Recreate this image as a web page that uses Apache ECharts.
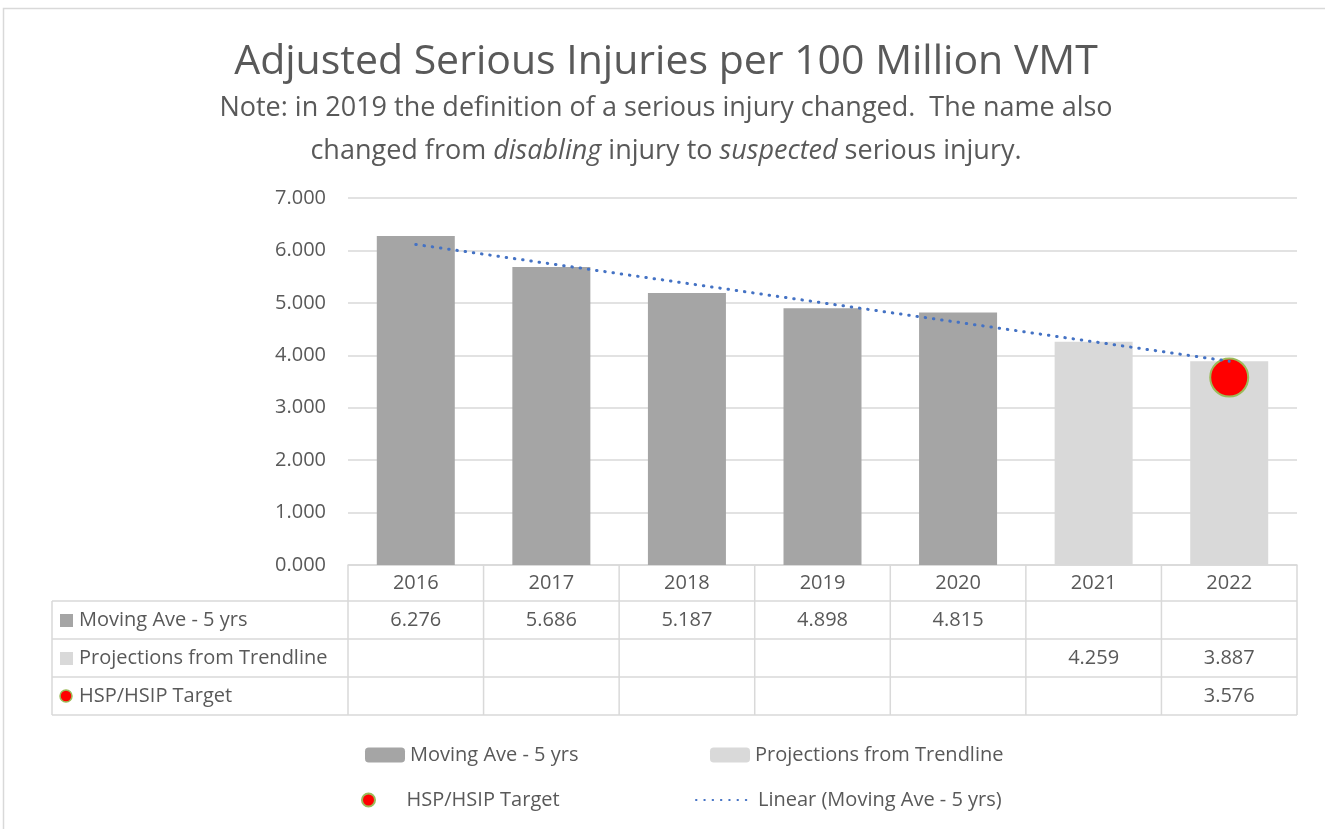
<!DOCTYPE html>
<html>
<head>
<meta charset="utf-8">
<script src="https://cdn.jsdelivr.net/npm/echarts@6/dist/echarts.min.js"></script>
<style>
  html, body { margin: 0; background: #fff; }
  #chart { width: 1325px; height: 829px; }
</style>
</head>
<body>
<div id="chart"></div>
<script>
const years = ['2016', '2017', '2018', '2019', '2020', '2021', '2022'];
const movingAve = [6.276, 5.686, 5.187, 4.898, 4.815, null, null];
const projections = [null, null, null, null, null, 4.259, 3.887];
const target = [null, null, null, null, null, null, 3.576];
const trendline = [6.114, null, null, null, null, null, 3.887];

const TEXT = '#595959';
const GRID_LINE = '#d9d9d9';
const FONT = 'Open Sans';
const FS = 20;

const chart = echarts.init(document.getElementById('chart'));

const legendText = { color: TEXT, fontSize: FS, fontFamily: FONT };

const option = {
  animation: false,
  textStyle: { fontFamily: FONT, color: TEXT },
  grid: { left: 348, right: 28, top: 198, bottom: 264 },
  xAxis: {
    type: 'category',
    data: years,
    axisLine: { lineStyle: { color: GRID_LINE, width: 1.5 } },
    axisTick: { show: false },
    axisLabel: { color: TEXT, fontSize: FS, margin: 8, fontFamily: FONT }
  },
  yAxis: {
    type: 'value',
    min: 0,
    max: 7,
    interval: 1,
    axisLine: { show: false },
    axisTick: { show: false },
    splitLine: { lineStyle: { color: GRID_LINE, width: 1.5 } },
    axisLabel: {
      color: TEXT, fontSize: FS, margin: 22, fontFamily: FONT,
      formatter: v => v.toFixed(3)
    }
  },
  legend: [
    {
      left: 360, top: 740, itemWidth: 40, itemHeight: 15,
      textStyle: legendText,
      data: ['Moving Ave - 5 yrs']
    },
    {
      left: 705, top: 740, itemWidth: 40, itemHeight: 15,
      textStyle: legendText,
      data: ['Projections from Trendline']
    },
    {
      left: 356, top: 785, itemWidth: 22, itemHeight: 13,
      textStyle: Object.assign({ padding: [0, 0, 0, 22] }, legendText),
      data: [{ name: 'HSP/HSIP Target', icon: 'circle' }]
    },
    {
      left: 690, top: 785, itemWidth: 57, itemHeight: 14,
      textStyle: legendText,
      data: [{ name: 'Linear (Moving Ave - 5 yrs)', itemStyle: { opacity: 0 } }]
    }
  ],
  series: [
    {
      name: 'Moving Ave - 5 yrs',
      type: 'bar',
      data: movingAve,
      barWidth: 78,
      barGap: '-100%',
      itemStyle: { color: '#a5a5a5' }
    },
    {
      name: 'Projections from Trendline',
      type: 'bar',
      data: projections,
      barWidth: 78,
      barGap: '-100%',
      itemStyle: { color: '#d9d9d9' }
    },
    {
      name: 'HSP/HSIP Target',
      type: 'scatter',
      data: target,
      symbol: 'circle',
      symbolSize: 38,
      z: 3,
      itemStyle: { color: '#ff0000', opacity: 1, borderColor: '#9bbb59', borderWidth: 2 }
    },
    {
      name: 'Linear (Moving Ave - 5 yrs)',
      type: 'line',
      data: trendline,
      connectNulls: true,
      symbol: 'none',
      showSymbol: false,
      z: 4,
      lineStyle: { color: '#4472c4', width: 3, type: [0.5, 7.8], cap: 'round' }
    }
  ]
};

chart.setOption(option);

// data table under the plot, positioned from the category axis
function buildTable() {
  const c0 = chart.convertToPixel({ xAxisIndex: 0 }, years[0]);
  const c1 = chart.convertToPixel({ xAxisIndex: 0 }, years[1]);
  const colW = c1 - c0;
  const gridLeft = c0 - colW / 2;
  const gridRight = gridLeft + colW * years.length;
  const top = chart.convertToPixel({ yAxisIndex: 0 }, 0);
  const tableLeft = 52;
  const headerH = 36;
  const rowH = 38;
  const rows = [
    { name: 'Moving Ave - 5 yrs', values: movingAve, icon: 'rect', color: '#a5a5a5' },
    { name: 'Projections from Trendline', values: projections, icon: 'rect', color: '#d9d9d9' },
    { name: 'HSP/HSIP Target', values: target, icon: 'circle', color: '#ff0000' }
  ];
  const bottom = top + headerH + rowH * rows.length;
  const lineStyle = { stroke: GRID_LINE, lineWidth: 1.5 };
  const font = FS + 'px "' + FONT + '"';
  const els = [];

  // horizontal rules
  for (let i = 0; i <= rows.length; i++) {
    const y = top + headerH + rowH * i;
    els.push({ type: 'line', shape: { x1: tableLeft, y1: y, x2: gridRight, y2: y }, style: lineStyle, silent: true });
  }
  // vertical rules
  els.push({ type: 'line', shape: { x1: tableLeft, y1: top + headerH, x2: tableLeft, y2: bottom }, style: lineStyle, silent: true });
  for (let j = 0; j <= years.length; j++) {
    const x = gridLeft + colW * j;
    els.push({ type: 'line', shape: { x1: x, y1: top, x2: x, y2: bottom }, style: lineStyle, silent: true });
  }

  rows.forEach((row, i) => {
    const cy = top + headerH + rowH * i + rowH / 2;
    if (row.icon === 'rect') {
      els.push({ type: 'rect', shape: { x: 60, y: cy - 6, width: 13, height: 13 }, style: { fill: row.color }, silent: true });
    } else {
      els.push({ type: 'circle', shape: { cx: 66, cy: cy, r: 6 }, style: { fill: row.color, stroke: '#9bbb59', lineWidth: 1.5 }, silent: true });
    }
    els.push({
      type: 'text', x: 79, y: cy,
      style: { text: row.name, fill: TEXT, font: font, verticalAlign: 'middle' },
      silent: true
    });
    row.values.forEach((v, j) => {
      if (v == null) return;
      els.push({
        type: 'text', x: gridLeft + colW * j + colW / 2, y: cy,
        style: { text: v.toFixed(3), fill: TEXT, font: font, align: 'center', verticalAlign: 'middle' },
        silent: true
      });
    });
  });

  // titles and frame
  els.push({
    type: 'text', x: 666, y: 62,
    style: { text: 'Adjusted Serious Injuries per 100 Million VMT', fill: TEXT, font: '41px "' + FONT + '"', align: 'center', verticalAlign: 'middle' },
    silent: true
  });
  els.push({
    type: 'text', x: 666, y: 108,
    style: { text: 'Note: in 2019 the definition of a serious injury changed.  The name also', fill: TEXT, font: '27px "' + FONT + '"', align: 'center', verticalAlign: 'middle' },
    silent: true
  });
  els.push({
    type: 'text', x: 666, y: 151,
    style: {
      text: 'changed from {i|disabling} injury to {i|suspected} serious injury.',
      fill: TEXT, font: '27px "' + FONT + '"', align: 'center', verticalAlign: 'middle',
      rich: { i: { fontStyle: 'italic', fontSize: 27, fontFamily: FONT, fill: TEXT } }
    },
    silent: true
  });
  els.push({
    type: 'rect', shape: { x: 3.5, y: 8.5, width: 1330, height: 830 },
    style: { fill: null, stroke: GRID_LINE, lineWidth: 1.5 }, silent: true, z: -1
  });

  chart.setOption({ graphic: els });
}

buildTable();
window.addEventListener('resize', () => {
  chart.resize();
  buildTable();
});
</script>
</body>
</html>
